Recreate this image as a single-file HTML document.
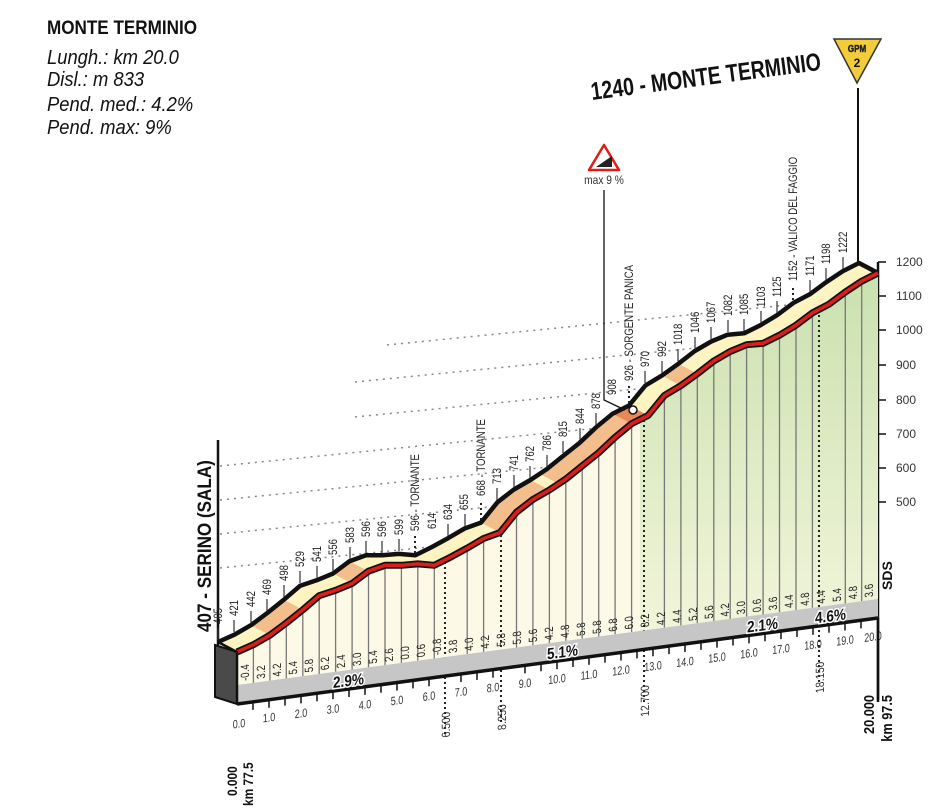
<!DOCTYPE html>
<html><head><meta charset="utf-8"><style>
html,body{margin:0;padding:0;background:#fff}
svg{display:block}
.n{font-family:"Liberation Sans",sans-serif;font-size:12px;fill:#222}
.k{font-family:"Liberation Sans",sans-serif;font-size:12px;fill:#333}
.b{font-family:"Liberation Sans",sans-serif;font-weight:bold;fill:#111}
.h{font-family:"Liberation Sans",sans-serif;font-style:italic;font-size:20px;fill:#111}
</style></head><body>
<svg width="950" height="810" viewBox="0 0 950 810" xmlns="http://www.w3.org/2000/svg">
<defs>
<linearGradient id="gr" x1="0" y1="0" x2="0" y2="1"><stop offset="0" stop-color="#c8e0ad"/><stop offset="1" stop-color="#fbf9e4"/></linearGradient>
<clipPath id="low"><polygon points="237,652 253.4,644.7 269.9,635.2 286.3,623 302.8,609.8 319.2,595.7 335.6,590.3 352.1,583.5 368.5,571.2 385,565.3 401.4,565.3 417.8,563.9 434.3,565.3 450.7,557.1 467.2,548.1 483.6,538.5 500,532.6 516.5,512.2 532.9,499.5 549.4,490 565.8,479.1 582.2,465.9 598.7,452.7 615.1,437.3 631.6,423.7 648,415.5 664.4,395.5 680.9,385.6 697.3,373.8 713.8,361 730.2,351.5 746.6,344.7 763.1,343.3 779.5,335.2 796,325.2 812.4,312.9 828.8,304.3 845.3,292.1 861.7,281.2 878,273 878,599 237,685"/></clipPath>
</defs>

<!-- header -->
<text transform="translate(47,34) scale(0.9,1)" class="b" font-size="19">MONTE TERMINIO</text>
<text transform="translate(47,64) scale(0.92,1)" class="h">Lungh.: km 20.0</text>
<text transform="translate(47,86) scale(0.92,1)" class="h">Disl.: m 833</text>
<text transform="translate(47,111) scale(0.92,1)" class="h">Pend. med.:  4.2%</text>
<text transform="translate(47,134) scale(0.92,1)" class="h">Pend. max:  9%</text>

<!-- dotted elevation lines -->
<g stroke="#888" stroke-width="1.5" stroke-dasharray="2,5">
<line x1="387" y1="345" x2="878" y2="296"/>
<line x1="355" y1="382" x2="878" y2="330"/>
<line x1="355" y1="417" x2="878" y2="365"/>
<line x1="220" y1="466" x2="878" y2="400"/>
<line x1="220" y1="500" x2="878" y2="434"/>
<line x1="220" y1="534" x2="878" y2="468"/>
<line x1="220" y1="568" x2="878" y2="502"/>
</g>

<!-- right axis -->
<line x1="878" y1="262" x2="878" y2="700" stroke="#111" stroke-width="2.5"/>
<g stroke="#111" stroke-width="1.5">
<line x1="878" y1="262" x2="886" y2="262"/><line x1="878" y1="296" x2="886" y2="296"/><line x1="878" y1="330" x2="886" y2="330"/><line x1="878" y1="365" x2="886" y2="365"/><line x1="878" y1="400" x2="886" y2="400"/><line x1="878" y1="434" x2="886" y2="434"/><line x1="878" y1="468" x2="886" y2="468"/><line x1="878" y1="502" x2="886" y2="502"/>
</g>
<g class="k" font-size="12">
<text x="896" y="266">1200</text><text x="896" y="300">1100</text><text x="896" y="334">1000</text><text x="896" y="369">900</text><text x="896" y="404">800</text><text x="896" y="438">700</text><text x="896" y="472">600</text><text x="896" y="506">500</text>
</g>
<text transform="translate(892,590) rotate(-90)" class="b" font-size="14">SDS</text>

<!-- left axis -->
<line x1="218" y1="440" x2="218" y2="645" stroke="#111" stroke-width="2.5"/>
<text transform="translate(211,632) rotate(-90) scale(0.9,1)" class="b" font-size="19">407 - SERINO (SALA)</text>

<!-- lower cream area -->
<g clip-path="url(#low)">
<rect x="230" y="260" width="660" height="450" fill="#fcfae6"/>
<rect x="640" y="260" width="240" height="450" fill="url(#gr)"/>
<g stroke="#777" stroke-width="1.3">
<line x1="253.4" y1="600" x2="253.4" y2="700"/><line x1="269.9" y1="600" x2="269.9" y2="700"/><line x1="286.3" y1="600" x2="286.3" y2="700"/><line x1="302.8" y1="590" x2="302.8" y2="700"/><line x1="319.2" y1="580" x2="319.2" y2="700"/><line x1="335.6" y1="580" x2="335.6" y2="700"/><line x1="352.1" y1="570" x2="352.1" y2="700"/><line x1="368.5" y1="560" x2="368.5" y2="700"/><line x1="385" y1="560" x2="385" y2="700"/><line x1="401.4" y1="560" x2="401.4" y2="700"/><line x1="417.8" y1="550" x2="417.8" y2="700"/><line x1="434.3" y1="550" x2="434.3" y2="700"/><line x1="467.2" y1="540" x2="467.2" y2="700"/><line x1="483.6" y1="530" x2="483.6" y2="700"/><line x1="516.5" y1="500" x2="516.5" y2="700"/><line x1="532.9" y1="490" x2="532.9" y2="700"/><line x1="549.4" y1="480" x2="549.4" y2="700"/><line x1="565.8" y1="470" x2="565.8" y2="700"/><line x1="582.2" y1="460" x2="582.2" y2="700"/><line x1="598.7" y1="440" x2="598.7" y2="700"/><line x1="615.1" y1="430" x2="615.1" y2="700"/><line x1="631.6" y1="410" x2="631.6" y2="700"/><line x1="664.4" y1="390" x2="664.4" y2="700"/><line x1="680.9" y1="380" x2="680.9" y2="700"/><line x1="697.3" y1="370" x2="697.3" y2="700"/><line x1="713.8" y1="350" x2="713.8" y2="700"/><line x1="730.2" y1="340" x2="730.2" y2="700"/><line x1="746.6" y1="340" x2="746.6" y2="700"/><line x1="763.1" y1="340" x2="763.1" y2="700"/><line x1="779.5" y1="330" x2="779.5" y2="700"/><line x1="796" y1="320" x2="796" y2="700"/><line x1="812.4" y1="300" x2="812.4" y2="700"/><line x1="845.3" y1="290" x2="845.3" y2="700"/><line x1="861.7" y1="280" x2="861.7" y2="700"/>
</g>
</g>
<g stroke="#222" stroke-width="2" stroke-dasharray="2,3">
<line x1="445" y1="557" x2="445" y2="735"/><line x1="501" y1="530" x2="501" y2="725"/><line x1="644" y1="415" x2="644" y2="705"/><line x1="819" y1="310" x2="819" y2="682"/>
</g>

<!-- grade band -->
<polygon points="237,685 878,599 878,618 237,704" fill="#c6c6c6"/>
<line x1="237" y1="704" x2="878" y2="618" stroke="#111" stroke-width="3.5"/>
<polygon points="215,645 237,652 237,704 215,697" fill="#4a4a4a" stroke="#111" stroke-width="2"/>

<g transform="matrix(1,-0.134,0,1,237,685)">
<g class="n" font-size="11">
<text transform="translate(12,-3) rotate(-90) scale(0.8,1)">-0.4</text><text transform="translate(28,-3) rotate(-90) scale(0.8,1)">3.2</text><text transform="translate(44,-3) rotate(-90) scale(0.8,1)">4.2</text><text transform="translate(60,-3) rotate(-90) scale(0.8,1)">5.4</text><text transform="translate(76,-3) rotate(-90) scale(0.8,1)">5.8</text><text transform="translate(92,-3) rotate(-90) scale(0.8,1)">6.2</text><text transform="translate(108,-3) rotate(-90) scale(0.8,1)">2.4</text><text transform="translate(124,-3) rotate(-90) scale(0.8,1)">3.0</text><text transform="translate(140,-3) rotate(-90) scale(0.8,1)">5.4</text><text transform="translate(156,-3) rotate(-90) scale(0.8,1)">2.6</text><text transform="translate(172,-3) rotate(-90) scale(0.8,1)">0.0</text><text transform="translate(188,-3) rotate(-90) scale(0.8,1)">0.6</text><text transform="translate(204,-3) rotate(-90) scale(0.8,1)">-0.8</text><text transform="translate(220,-3) rotate(-90) scale(0.8,1)">3.8</text><text transform="translate(236,-3) rotate(-90) scale(0.8,1)">4.0</text><text transform="translate(252,-3) rotate(-90) scale(0.8,1)">4.2</text><text transform="translate(268,-3) rotate(-90) scale(0.8,1)">5.8</text><text transform="translate(284,-3) rotate(-90) scale(0.8,1)">5.8</text><text transform="translate(300,-3) rotate(-90) scale(0.8,1)">5.6</text><text transform="translate(316,-3) rotate(-90) scale(0.8,1)">4.2</text><text transform="translate(332,-3) rotate(-90) scale(0.8,1)">4.8</text><text transform="translate(348,-3) rotate(-90) scale(0.8,1)">5.8</text><text transform="translate(364,-3) rotate(-90) scale(0.8,1)">5.8</text><text transform="translate(380,-3) rotate(-90) scale(0.8,1)">6.8</text><text transform="translate(396,-3) rotate(-90) scale(0.8,1)">6.0</text><text transform="translate(412,-3) rotate(-90) scale(0.8,1)">8.2</text><text transform="translate(428,-3) rotate(-90) scale(0.8,1)">4.2</text><text transform="translate(444,-3) rotate(-90) scale(0.8,1)">4.4</text><text transform="translate(460,-3) rotate(-90) scale(0.8,1)">5.2</text><text transform="translate(476,-3) rotate(-90) scale(0.8,1)">5.6</text><text transform="translate(492,-3) rotate(-90) scale(0.8,1)">4.2</text><text transform="translate(508,-3) rotate(-90) scale(0.8,1)">3.0</text><text transform="translate(524,-3) rotate(-90) scale(0.8,1)">0.6</text><text transform="translate(540,-3) rotate(-90) scale(0.8,1)">3.6</text><text transform="translate(556,-3) rotate(-90) scale(0.8,1)">4.4</text><text transform="translate(572,-3) rotate(-90) scale(0.8,1)">4.8</text><text transform="translate(588,-3) rotate(-90) scale(0.8,1)">4.4</text><text transform="translate(604,-3) rotate(-90) scale(0.8,1)">5.4</text><text transform="translate(620,-3) rotate(-90) scale(0.8,1)">4.8</text><text transform="translate(636,-3) rotate(-90) scale(0.8,1)">3.6</text>
</g>
<g class="b" font-size="16" stroke="#fff" stroke-width="3" paint-order="stroke">
<text transform="translate(96,16) scale(0.85,1)">2.9%</text><text transform="translate(310,16) scale(0.85,1)">5.1%</text><text transform="translate(510,16) scale(0.85,1)">2.1%</text><text transform="translate(578,16) scale(0.85,1)">4.6%</text>
</g>
</g>

<!-- km axis -->
<g transform="matrix(1,-0.134,0,1,237,704)">
<g stroke="#111" stroke-width="1.5">
<line x1="16" y1="0" x2="16" y2="8"/><line x1="32" y1="0" x2="32" y2="8"/><line x1="48" y1="0" x2="48" y2="8"/><line x1="64" y1="0" x2="64" y2="8"/><line x1="80" y1="0" x2="80" y2="8"/><line x1="96" y1="0" x2="96" y2="8"/><line x1="112" y1="0" x2="112" y2="8"/><line x1="128" y1="0" x2="128" y2="8"/><line x1="144" y1="0" x2="144" y2="8"/><line x1="160" y1="0" x2="160" y2="8"/><line x1="176" y1="0" x2="176" y2="8"/><line x1="192" y1="0" x2="192" y2="8"/><line x1="224" y1="0" x2="224" y2="8"/><line x1="240" y1="0" x2="240" y2="8"/><line x1="256" y1="0" x2="256" y2="8"/><line x1="288" y1="0" x2="288" y2="8"/><line x1="304" y1="0" x2="304" y2="8"/><line x1="320" y1="0" x2="320" y2="8"/><line x1="336" y1="0" x2="336" y2="8"/><line x1="352" y1="0" x2="352" y2="8"/><line x1="368" y1="0" x2="368" y2="8"/><line x1="384" y1="0" x2="384" y2="8"/><line x1="400" y1="0" x2="400" y2="8"/><line x1="416" y1="0" x2="416" y2="8"/><line x1="432" y1="0" x2="432" y2="8"/><line x1="448" y1="0" x2="448" y2="8"/><line x1="464" y1="0" x2="464" y2="8"/><line x1="480" y1="0" x2="480" y2="8"/><line x1="496" y1="0" x2="496" y2="8"/><line x1="512" y1="0" x2="512" y2="8"/><line x1="528" y1="0" x2="528" y2="8"/><line x1="544" y1="0" x2="544" y2="8"/><line x1="560" y1="0" x2="560" y2="8"/><line x1="576" y1="0" x2="576" y2="8"/><line x1="592" y1="0" x2="592" y2="8"/><line x1="608" y1="0" x2="608" y2="8"/><line x1="624" y1="0" x2="624" y2="8"/>
</g>
<g class="k" font-size="12" text-anchor="middle">
<text transform="translate(2,24) scale(0.75,1)">0.0</text><text transform="translate(32,22) scale(0.75,1)">1.0</text><text transform="translate(64,22) scale(0.75,1)">2.0</text><text transform="translate(96,22) scale(0.75,1)">3.0</text><text transform="translate(128,22) scale(0.75,1)">4.0</text><text transform="translate(160,22) scale(0.75,1)">5.0</text><text transform="translate(192,22) scale(0.75,1)">6.0</text><text transform="translate(224,22) scale(0.75,1)">7.0</text><text transform="translate(256,22) scale(0.75,1)">8.0</text><text transform="translate(288,22) scale(0.75,1)">9.0</text><text transform="translate(320,22) scale(0.75,1)">10.0</text><text transform="translate(352,22) scale(0.75,1)">11.0</text><text transform="translate(384,22) scale(0.75,1)">12.0</text><text transform="translate(416,22) scale(0.75,1)">13.0</text><text transform="translate(448,22) scale(0.75,1)">14.0</text><text transform="translate(480,22) scale(0.75,1)">15.0</text><text transform="translate(512,22) scale(0.75,1)">16.0</text><text transform="translate(544,22) scale(0.75,1)">17.0</text><text transform="translate(576,22) scale(0.75,1)">18.0</text><text transform="translate(608,22) scale(0.75,1)">19.0</text><text transform="translate(636,22) scale(0.75,1)">20.0</text>
</g>
<g class="k" font-size="13" text-anchor="end">
<text transform="translate(213,36) rotate(-90) scale(0.85,1)">6.500</text><text transform="translate(269,36) rotate(-90) scale(0.85,1)">8.250</text><text transform="translate(412,36) rotate(-90) scale(0.85,1)">12.700</text><text transform="translate(587,36) rotate(-90) scale(0.85,1)">18.150</text>
</g>
</g>
<line x1="878" y1="618" x2="878" y2="702" stroke="#111" stroke-width="2.5"/>
<text transform="translate(237,796) rotate(-90) scale(0.85,1)" class="b" font-size="14">0.000</text>
<text transform="translate(253,806) rotate(-90) scale(0.85,1)" class="b" font-size="14">km 77.5</text>
<text transform="translate(874,695) rotate(-90) scale(0.85,1)" class="b" font-size="15" text-anchor="end">20.000</text>
<text transform="translate(892,695) rotate(-90) scale(0.85,1)" class="b" font-size="15" text-anchor="end">km 97.5</text>

<!-- top surface -->
<polygon fill="#fdf4c2" points="218,642 234.4,634.7 250.9,625.2 267.3,613 283.8,599.8 300.2,585.7 316.6,580.3 333.1,573.5 349.5,561.2 366,555.3 382.4,555.3 398.8,553.9 415.3,555.3 431.7,547.1 448.2,538.1 464.6,528.5 481,522.6 497.5,502.2 513.9,489.5 530.4,480 546.8,469.1 563.2,455.9 579.7,442.7 596.1,427.3 612.6,413.7 629,405.5 645.4,385.5 661.9,375.6 678.3,363.8 694.8,351 711.2,341.5 727.6,334.7 744.1,333.3 760.5,325.2 777,315.2 793.4,302.9 809.8,294.3 826.3,282.1 842.7,271.2 859,263 878,273 861.7,281.2 845.3,292.1 828.8,304.3 812.4,312.9 796,325.2 779.5,335.2 763.1,343.3 746.6,344.7 730.2,351.5 713.8,361 697.3,373.8 680.9,385.6 664.4,395.5 648,415.5 631.6,423.7 615.1,437.3 598.7,452.7 582.2,465.9 565.8,479.1 549.4,490 532.9,499.5 516.5,512.2 500,532.6 483.6,538.5 467.2,548.1 450.7,557.1 434.3,565.3 417.8,563.9 401.4,565.3 385,565.3 368.5,571.2 352.1,583.5 335.6,590.3 319.2,595.7 302.8,609.8 286.3,623 269.9,635.2 253.4,644.7 237,652"/>
<g fill="#f4be8c">
<polygon points="250.9,625.2 267.3,613 283.8,599.8 302.8,609.8 286.3,623 269.9,635.2"/>
<polygon points="333.1,573.5 349.5,561.2 368.5,571.2 352.1,583.5"/>
<polygon points="481,522.6 497.5,502.2 513.9,489.5 530.4,480 549.4,490 532.9,499.5 516.5,512.2 500,532.6"/>
<polygon points="540,474 546.8,469.1 563.2,455.9 579.7,442.7 596.1,427.3 612.6,413.7 629,405.5 648,415.5 631.6,423.7 615.1,437.3 598.7,452.7 582.2,465.9 565.8,479.1 559,484"/>
<polygon points="661.9,375.6 678.3,363.8 697.3,373.8 680.9,385.6"/>
</g>
<polygon points="612.6,413.7 629,405.5 648,415.5 631.6,423.7" fill="#e8885a"/>
<!-- top black line -->
<polyline fill="none" stroke="#111" stroke-width="4.5" stroke-linejoin="round" points="218,642 234.4,634.7 250.9,625.2 267.3,613 283.8,599.8 300.2,585.7 316.6,580.3 333.1,573.5 349.5,561.2 366,555.3 382.4,555.3 398.8,553.9 415.3,555.3 431.7,547.1 448.2,538.1 464.6,528.5 481,522.6 497.5,502.2 513.9,489.5 530.4,480 546.8,469.1 563.2,455.9 579.7,442.7 596.1,427.3 612.6,413.7 629,405.5 645.4,385.5 661.9,375.6 678.3,363.8 694.8,351 711.2,341.5 727.6,334.7 744.1,333.3 760.5,325.2 777,315.2 793.4,302.9 809.8,294.3 826.3,282.1 842.7,271.2 859,263 878,273"/>
<!-- red line -->
<polyline fill="none" stroke="#111" stroke-width="7" stroke-linejoin="round" points="237,652 253.4,644.7 269.9,635.2 286.3,623 302.8,609.8 319.2,595.7 335.6,590.3 352.1,583.5 368.5,571.2 385,565.3 401.4,565.3 417.8,563.9 434.3,565.3 450.7,557.1 467.2,548.1 483.6,538.5 500,532.6 516.5,512.2 532.9,499.5 549.4,490 565.8,479.1 582.2,465.9 598.7,452.7 615.1,437.3 631.6,423.7 648,415.5 664.4,395.5 680.9,385.6 697.3,373.8 713.8,361 730.2,351.5 746.6,344.7 763.1,343.3 779.5,335.2 796,325.2 812.4,312.9 828.8,304.3 845.3,292.1 861.7,281.2 878,273"/>
<polyline fill="none" stroke="#e01b1b" stroke-width="3.5" stroke-linejoin="round" points="237,652 253.4,644.7 269.9,635.2 286.3,623 302.8,609.8 319.2,595.7 335.6,590.3 352.1,583.5 368.5,571.2 385,565.3 401.4,565.3 417.8,563.9 434.3,565.3 450.7,557.1 467.2,548.1 483.6,538.5 500,532.6 516.5,512.2 532.9,499.5 549.4,490 565.8,479.1 582.2,465.9 598.7,452.7 615.1,437.3 631.6,423.7 648,415.5 664.4,395.5 680.9,385.6 697.3,373.8 713.8,361 730.2,351.5 746.6,344.7 763.1,343.3 779.5,335.2 796,325.2 812.4,312.9 828.8,304.3 845.3,292.1 861.7,281.2 878,273"/>
<polyline fill="none" stroke="#111" stroke-width="2.5" points="218,642 237,652 237,704"/>

<!-- label ticks -->
<g stroke="#333" stroke-width="1.2">
<line x1="218" y1="640" x2="218" y2="628"/><line x1="234" y1="632" x2="234" y2="620"/><line x1="251" y1="623" x2="251" y2="611"/><line x1="267" y1="611" x2="267" y2="599"/><line x1="284" y1="597" x2="284" y2="585"/><line x1="300" y1="583" x2="300" y2="571"/><line x1="317" y1="578" x2="317" y2="566"/><line x1="333" y1="571" x2="333" y2="559"/><line x1="350" y1="559" x2="350" y2="547"/><line x1="366" y1="553" x2="366" y2="541"/><line x1="382" y1="553" x2="382" y2="541"/><line x1="399" y1="551" x2="399" y2="539"/><line x1="448" y1="536" x2="448" y2="524"/><line x1="465" y1="526" x2="465" y2="514"/><line x1="497" y1="500" x2="497" y2="488"/><line x1="514" y1="487" x2="514" y2="475"/><line x1="530" y1="478" x2="530" y2="466"/><line x1="547" y1="467" x2="547" y2="455"/><line x1="563" y1="453" x2="563" y2="441"/><line x1="580" y1="440" x2="580" y2="428"/><line x1="596" y1="425" x2="596" y2="413"/><line x1="645" y1="383" x2="645" y2="371"/><line x1="662" y1="373" x2="662" y2="361"/><line x1="678" y1="361" x2="678" y2="349"/><line x1="695" y1="349" x2="695" y2="337"/><line x1="711" y1="339" x2="711" y2="327"/><line x1="728" y1="332" x2="728" y2="320"/><line x1="744" y1="331" x2="744" y2="319"/><line x1="761" y1="323" x2="761" y2="311"/><line x1="777" y1="313" x2="777" y2="301"/><line x1="810" y1="292" x2="810" y2="280"/><line x1="826" y1="280" x2="826" y2="268"/><line x1="843" y1="269" x2="843" y2="257"/>
</g>
<g stroke="#222" stroke-width="2" stroke-dasharray="2,3">
<line x1="415" y1="553" x2="415" y2="535"/><line x1="481" y1="520" x2="481" y2="500"/><line x1="629" y1="403" x2="629" y2="385"/><line x1="793" y1="300" x2="793" y2="285"/>
</g>
<!-- elevation labels -->
<g class="n" font-size="13">
<text transform="translate(222,624) rotate(-90) scale(0.8,1)">405</text><text transform="translate(238,616) rotate(-90) scale(0.8,1)">421</text><text transform="translate(255,607) rotate(-90) scale(0.8,1)">442</text><text transform="translate(271,595) rotate(-90) scale(0.8,1)">469</text><text transform="translate(288,581) rotate(-90) scale(0.8,1)">498</text><text transform="translate(304,567) rotate(-90) scale(0.8,1)">529</text><text transform="translate(321,562) rotate(-90) scale(0.8,1)">541</text><text transform="translate(337,555) rotate(-90) scale(0.8,1)">556</text><text transform="translate(354,543) rotate(-90) scale(0.8,1)">583</text><text transform="translate(370,537) rotate(-90) scale(0.8,1)">596</text><text transform="translate(386,537) rotate(-90) scale(0.8,1)">596</text><text transform="translate(403,535) rotate(-90) scale(0.8,1)">599</text><text transform="translate(419,531) rotate(-90) scale(0.8,1)">596 - TORNANTE</text><text transform="translate(436,529) rotate(-90) scale(0.8,1)">614</text><text transform="translate(452,520) rotate(-90) scale(0.8,1)">634</text><text transform="translate(468,510) rotate(-90) scale(0.8,1)">655</text><text transform="translate(485,496) rotate(-90) scale(0.8,1)">668 - TORNANTE</text><text transform="translate(501,484) rotate(-90) scale(0.8,1)">713</text><text transform="translate(518,471) rotate(-90) scale(0.8,1)">741</text><text transform="translate(534,462) rotate(-90) scale(0.8,1)">762</text><text transform="translate(551,451) rotate(-90) scale(0.8,1)">786</text><text transform="translate(567,437) rotate(-90) scale(0.8,1)">815</text><text transform="translate(584,424) rotate(-90) scale(0.8,1)">844</text><text transform="translate(600,409) rotate(-90) scale(0.8,1)">878</text><text transform="translate(616,395) rotate(-90) scale(0.8,1)">908</text><text transform="translate(633,381) rotate(-90) scale(0.8,1)">926 - SORGENTE PANICA</text><text transform="translate(649,367) rotate(-90) scale(0.8,1)">970</text><text transform="translate(666,357) rotate(-90) scale(0.8,1)">992</text><text transform="translate(682,345) rotate(-90) scale(0.8,1)">1018</text><text transform="translate(699,333) rotate(-90) scale(0.8,1)">1046</text><text transform="translate(715,323) rotate(-90) scale(0.8,1)">1067</text><text transform="translate(732,316) rotate(-90) scale(0.8,1)">1082</text><text transform="translate(748,315) rotate(-90) scale(0.8,1)">1085</text><text transform="translate(765,307) rotate(-90) scale(0.8,1)">1103</text><text transform="translate(781,297) rotate(-90) scale(0.8,1)">1125</text><text transform="translate(797,281) rotate(-90) scale(0.8,1)">1152 - VALICO DEL FAGGIO</text><text transform="translate(814,276) rotate(-90) scale(0.8,1)">1171</text><text transform="translate(830,264) rotate(-90) scale(0.8,1)">1198</text><text transform="translate(847,253) rotate(-90) scale(0.8,1)">1222</text>
</g>

<!-- summit -->
<line x1="858" y1="88" x2="858" y2="262" stroke="#111" stroke-width="2"/>
<polygon points="834,39 881,39 857,83" fill="#f2cc3a" stroke="#333" stroke-width="1.5"/>
<text transform="translate(857,52) scale(0.8,1)" text-anchor="middle" class="b" font-size="10" fill="#fff" stroke="#333" stroke-width="0.5">GPM</text>
<text x="857" y="67" text-anchor="middle" class="b" font-size="12">2</text>
<text transform="translate(592,100) rotate(-7.5) scale(0.78,1)" class="b" font-size="25">1240 - MONTE TERMINIO</text>

<!-- max 9% -->
<polygon points="604,145 619,170 589,170" fill="#fff" stroke="#e01b1b" stroke-width="2.5" stroke-linejoin="round"/>
<polygon points="596,167 612,167 612,156" fill="#222"/>
<text transform="translate(604,184) scale(0.85,1)" text-anchor="middle" class="k" font-size="11">max 9 %</text>
<polyline fill="none" stroke="#111" stroke-width="1.3" points="604,190 604,400 625,410"/>
<circle cx="633" cy="410" r="4" fill="#fff" stroke="#111" stroke-width="1.5"/>
</svg>
</body></html>
